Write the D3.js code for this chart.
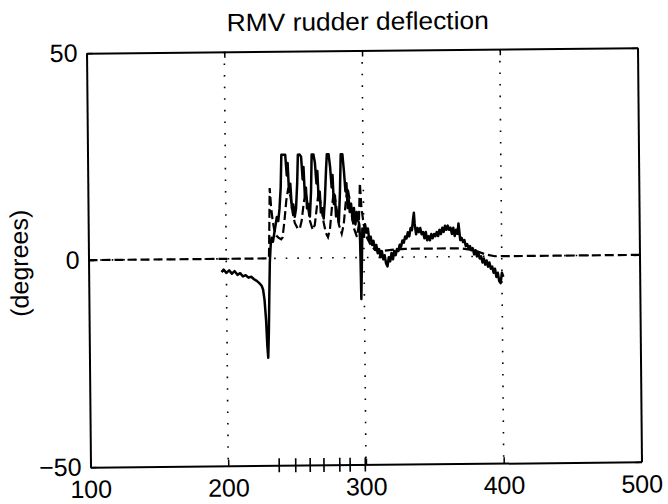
<!DOCTYPE html>
<html>
<head>
<meta charset="utf-8">
<script src="https://cdn.jsdelivr.net/npm/d3@7"></script>
<style>
  html, body { margin: 0; padding: 0; background: #fff; }
  svg { display: block; }
  text { font-family: "Liberation Sans", Arial, Helvetica, sans-serif; fill: #000; }
</style>
</head>
<body>
<svg id="chart" width="668" height="504"></svg>
<script>
// Measured rudder deflection (solid trace)
const solidX = [196.5,198,200,202,204,206,208,210,212,214,216,218,220,222,224,225.5,226.5,227.5,228.5,229.2,229.8,230.4,231,231.6,232.3,233,234,235,
  236,237,238,239,240,240.7,242,243.5,244.5,245.2,246,247,248,249,250,251,252,252.7,254,255,256,256.7,257.5,258.3,259,260,261,262,262.7,264,265,266,266.7,267.5,268.3,269,270,271,272,273,273.7,275,276,277,277.7,278.5,279.3,280,281,282,283,283.8,285,286,287,287.7,288.5,289.3,290,291,292,293,294,295,296,296.8,297.3,297.8,298.3,
  299,300,301,302,303,304,305,306,307,308,309,310,311,312,313,314,315,316,317,318,319,320,321,322,323,324,325,326,327,328,329,330,331,332,333,334,335,335.8,336.5,337,338,339,340,341,342,343,344,345,346,347,348,349,350,351,352,353,354,355,356,357,358,359,360,361,362,363,364,365,366,367,368,368.8,370,371,372,373,374,375,376,377,378,379,380,381,382,383,384,385,386,387,388,389,390,391,392,393,394,395,396,397,398,399,400,401];
const solidY = [-3.2,-2.6,-3.4,-2.8,-3.6,-3.0,-3.9,-3.5,-4.3,-4.0,-4.6,-4.4,-5.0,-5.4,-6.0,-6.6,-7.5,-10,-15,-21,-24,-18,-9,-1,3,5,4,6,
  8,10,9,12,17,25,25,25,20,23,16,18,12,13,10,12,18,25,25,24.5,19,22,15,17,12,13,10,16,25,25,23,18,21,14,16,11,12,9.5,14,21,25,25,22,17,20,13,15,10,11,8.5,16,25,25,21,16,18,12,14,11,13,9,12,8,11,9,8,4,-10,-3,7,
  5,8,6,7,4,5,3,4,2,3,1,2,0,1.5,-0.5,0.5,-1.5,-2.2,0,-1,1,-0.5,1.5,0.5,2,1.5,3,2.5,4,3.5,5,4.5,6,5,7,6.5,9,10.7,8,5.5,7,6,7,5.5,6,4.5,6,4,5,4,5.5,4.5,5.5,5,6,5,6.5,5.5,7,6,7.5,6.5,7.5,6.5,7,5.5,7,5,6.5,5.5,8,4,4.5,3.5,4,2.5,3,2,2.5,1.5,2,0.5,1.5,0,1,-0.5,0,-1.5,-0.5,-2,-1,-2.5,-1.5,-3,-2.5,-4,-3,-5,-4,-6,-6.5,-4,-5,-3.8];

// Commanded rudder deflection (dashed trace)
const dashX = [100,231,231.5,232,233,234,235,236.5,238,240,241,242.5,244,245.5,247,248.5,250,252,253.5,255,256.5,258,259.5,261,263,264.5,266,267.5,269,271,272.5,274,275.5,277,278.5,280,282,284,285.5,287,288.5,290,291.5,293,295,296.5,297.5,298.5,300,302,305,308,312,320,330,340,350,360,370,380,388,395,500];
const dashY = [0,0,8,17,12,9,7,5.5,5,4.6,5,9,14,17,15,11,8.5,7.2,7,9,13,16,13,9,6.8,8,12,16,13,8.5,6,5,7,12,16,13,8,5.8,8,13,17,14,10,7,5,8,18,12,8,5,3,1.8,1.5,1.8,2,2,2,2,2,1.5,0.5,0,0];

// Event markers along the time axis
const markerX = [237, 249, 259.5, 269.5, 281, 288.5, 299.5];

const xTicks = [100, 200, 300, 400, 500];
const yTicks = [-50, 0, 50];
const xGrid = [200, 300, 400];
const yGrid = [0];

const svg = d3.select("#chart");
const plotL = 88.5, plotR = 639.5, plotT = 50.5, plotB = 464.5;

const x = d3.scaleLinear().domain([100, 500]).range([plotL, plotR]);
const y = d3.scaleLinear().domain([-50, 50]).range([plotB, plotT]);

// whole figure sits slightly tilted
const g = svg.append("g").attr("transform", "rotate(-0.55 364 257)");

g.append("text")
  .attr("x", 360).attr("y", 30)
  .attr("text-anchor", "middle")
  .attr("font-size", 25)
  .attr("textLength", 262).attr("lengthAdjust", "spacingAndGlyphs")
  .text("RMV rudder deflection");

g.append("text")
  .attr("transform", "translate(28,260) rotate(-90)")
  .attr("text-anchor", "middle")
  .attr("font-size", 25)
  .text("(degrees)");

// dotted grid
const grid = g.append("g").attr("stroke", "#000").attr("stroke-width", 1.6)
  .attr("stroke-dasharray", "1.6,10").attr("fill", "none");
grid.selectAll(".gx").data(xGrid).join("line")
  .attr("x1", d => x(d)).attr("x2", d => x(d))
  .attr("y1", plotT).attr("y2", plotB);
grid.selectAll(".gy").data(yGrid).join("line")
  .attr("y1", d => y(d)).attr("y2", d => y(d))
  .attr("x1", plotL).attr("x2", plotR);

// axes with inward ticks on all four sides
const axB = d3.axisBottom(x).tickValues(xTicks).tickSizeInner(-6).tickSizeOuter(0).tickPadding(13);
const axT = d3.axisTop(x).tickValues(xTicks).tickSizeInner(-6).tickSizeOuter(0).tickFormat("");
const axL = d3.axisLeft(y).tickValues(yTicks).tickSizeInner(-6).tickSizeOuter(0).tickPadding(9);
const axR = d3.axisRight(y).tickValues(yTicks).tickSizeInner(-6).tickSizeOuter(0).tickFormat("");

function styleAxis(sel) {
  sel.select(".domain").attr("stroke", "#000").attr("stroke-width", 2);
  sel.selectAll(".tick line").attr("stroke", "#000").attr("stroke-width", 1.5);
  sel.selectAll(".tick text").attr("font-size", 25).attr("fill", "#000")
    .style("font-family", '"Liberation Sans", Arial, sans-serif');
}
g.append("g").attr("transform", `translate(0,${plotB})`).call(axB).call(styleAxis);
g.append("g").attr("transform", `translate(0,${plotT})`).call(axT).call(styleAxis);
g.append("g").attr("transform", `translate(${plotL},0)`).call(axL).call(styleAxis);
g.append("g").attr("transform", `translate(${plotR},0)`).call(axR).call(styleAxis);

// event markers crossing the bottom axis
g.append("g").selectAll("line").data(markerX).join("line")
  .attr("x1", d => x(d)).attr("x2", d => x(d))
  .attr("y1", plotB - 7).attr("y2", plotB + 7)
  .attr("stroke", "#000").attr("stroke-width", 1.6);

g.append("clipPath").attr("id", "plotclip")
  .append("rect").attr("x", plotL).attr("y", plotT - 2)
  .attr("width", plotR - plotL).attr("height", plotB - plotT + 4);

const line = d3.line().x(d => x(d[0])).y(d => y(d[1]));

g.append("path")
  .datum(d3.zip(dashX, dashY))
  .attr("clip-path", "url(#plotclip)")
  .attr("fill", "none").attr("stroke", "#000").attr("stroke-width", 2.2)
  .attr("stroke-dasharray", "9,4")
  .attr("d", line);

g.append("path")
  .datum(d3.zip(solidX, solidY))
  .attr("clip-path", "url(#plotclip)")
  .attr("fill", "none").attr("stroke", "#000").attr("stroke-width", 2.5)
  .attr("stroke-linejoin", "round")
  .attr("d", line);
</script>
</body>
</html>
